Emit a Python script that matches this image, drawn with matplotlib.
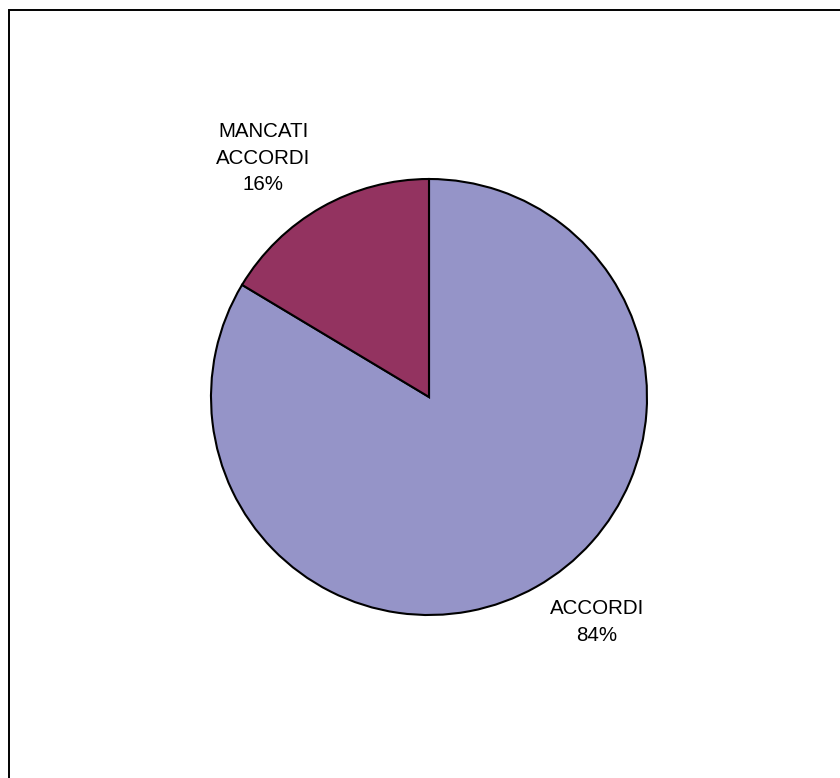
import matplotlib
matplotlib.use("Agg")
import matplotlib.pyplot as plt
from matplotlib.patches import Rectangle

categories = ["ACCORDI", "MANCATI\nACCORDI"]
values = [83.6, 16.4]
colors = ["#9594C8", "#933360"]

W, H = 840, 778
fig = plt.figure(figsize=(W / 100, H / 100), dpi=100)
ax = fig.add_axes([0, 0, 1, 1])

cx, cy, r = 429, H - 397, 218
ax.pie(values, colors=colors, startangle=90, counterclock=False,
       center=(cx, cy), radius=r, frame=False,
       wedgeprops=dict(edgecolor="black", linewidth=1.5))
ax.set_xlim(0, W)
ax.set_ylim(0, H)
ax.set_aspect("equal")
ax.axis("off")

label_pos = [(597, H - 622), (263, H - 158)]
for cat, v, (lx, ly) in zip(categories, values, label_pos):
    ax.text(lx, ly, f"{cat}\n{v:.0f}%", ha="center", va="center",
            fontsize=14.8, family=["Liberation Sans", "DejaVu Sans"],
            linespacing=1.5)

ax.add_patch(Rectangle((8.5, -30), 900, H - 9.5 + 30, fill=False,
                       edgecolor="black", linewidth=1.4, clip_on=False))

fig.savefig("out.png", dpi=100)
